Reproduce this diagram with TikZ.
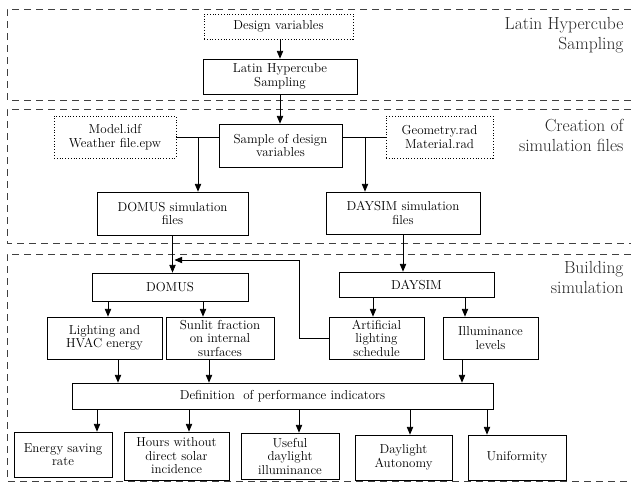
\documentclass[tikz,border=0pt]{standalone}
\usepackage{fontspec}
\usepackage{tikz}
\usetikzlibrary{shapes,arrows}

\begin{document}
\begin{tikzpicture}[x=1pt,y=-1pt,
	box/.style={draw=black,line width=0.8pt,align=center,inner sep=1pt,
		font=\fontsize{13}{13.5}\selectfont},
	filebox/.style={box,dotted},
	section/.style={draw=black!75,line width=0.8pt,dash pattern=on 7pt off 5pt},
	title/.style={anchor=east,align=right,text=black!85,
		font=\fontsize{17.5}{20}\selectfont},
	arr/.style={-triangle 45,line width=0.75pt}]
\useasboundingbox (0,0) rectangle (631,483);

% dashed stages
\draw[section] (631,9) -| (7,100) -- (631,100);%sampling
\draw[section] (631,109) -| (7,243) -- (631,243);%files
\draw[section] (631,254) -| (7,481) -- (631,481);%simulation

\node[title] (tsampling) at (627,35) {Latin Hypercube\\Sampling};
\node[title] (tfiles) at (627,135) {Creation of\\simulation files};
\node[title] (tsim) at (627,277) {Building\\simulation};

% sampling
\node[filebox,minimum width=149,minimum height=25] (desvar) at (278.5,26.5) {Design variables};
\node[box,minimum width=154,minimum height=35] (lhs) at (280,76.5) {Latin Hypercube\\Sampling};

% simulation files
\node[filebox,minimum width=122,minimum height=42] (model) at (115,137) {Model.idf\\Weather file.epw};
\node[box,minimum width=123,minimum height=43] (sample) at (280.5,145.5) {Sample of design\\variables};
\node[filebox,minimum width=107,minimum height=42] (geom) at (439.5,137) {Geometry.rad\\Material.rad};
\node[box,minimum width=151,minimum height=43] (domusfiles) at (172.5,213.5) {DOMUS simulation\\files};
\node[box,minimum width=154,minimum height=42] (daysimfiles) at (403,213) {DAYSIM simulation\\files};

% building simulation
\node[box,minimum width=156,minimum height=28] (domus) at (170,287) {DOMUS};
\node[box,minimum width=155,minimum height=25] (daysim) at (416.5,284.5) {DAYSIM};
\node[box,minimum width=115,minimum height=42] (lighting) at (104.5,338) {Lighting and\\HVAC energy};
\node[box,minimum width=108,minimum height=42] (sunlit) at (220,338) {Sunlit fraction\\on internal\\surfaces};
\node[box,minimum width=95,minimum height=42] (artif) at (376.5,338) {Artificial\\lighting\\schedule};
\node[box,minimum width=95,minimum height=42] (illum) at (490.5,338) {Illuminance\\levels};
\node[box,minimum width=421,minimum height=26] (indic) at (282.5,396) {Definition\ \ of performance indicators};

% indicators
\node[box,minimum width=98,minimum height=45] (energy) at (63,454.5) {Energy saving\\rate};
\node[box,minimum width=105,minimum height=48] (hours) at (176.5,456) {Hours without\\direct solar\\incidence};
\node[box,minimum width=98,minimum height=46] (useful) at (290,456) {Useful\\daylight\\illuminance};
\node[box,minimum width=97,minimum height=45] (autonomy) at (403.5,457.5) {Daylight\\Autonomy};
\node[box,minimum width=98,minimum height=45] (uniform) at (517,457.5) {Uniformity};

\coordinate (domusjoint) at (198,137);
\coordinate (daysimjoint) at (365,137);
\coordinate (feedback) at (299,260);

\draw[arr] (desvar.south -| lhs.north) -- (lhs.north);
\draw[arr] (lhs.south) -- (lhs.south |- sample.north);
\draw[line width=0.75pt] (model.east) -- (model.east -| sample.west);
\draw[line width=0.75pt] (sample.east |- geom.west) -- (geom.west);
\draw[arr] (domusjoint) -- (domusjoint |- domusfiles.north);
\draw[arr] (daysimjoint) -- (daysimjoint |- daysimfiles.north);
\draw[arr] (domusfiles.south) -- (domusfiles.south |- domus.north);
\draw[arr] (daysimfiles.south) -- (daysimfiles.south |- daysim.north);
\draw[arr] (artif.west) -| (feedback) -- ([xshift=2]feedback -| domusfiles.south);

\draw[arr] ([xshift=3.5]lighting.north |- domus.south) -- ([xshift=3.5]lighting.north);
\draw[arr] ([xshift=-17]sunlit.north |- domus.south) -- ([xshift=-17]sunlit.north);
\draw[arr] ([xshift=-3.5]artif.north |- daysim.south) -- ([xshift=-3.5]artif.north);
\draw[arr] ([xshift=-25.5]illum.north |- daysim.south) -- ([xshift=-25.5]illum.north);

\draw[arr] ([xshift=13.5]lighting.south) -- ([xshift=13.5]lighting.south |- indic.north);
\draw[arr] ([xshift=-11]sunlit.south) -- ([xshift=-11]sunlit.south |- indic.north);
\draw[arr] ([xshift=-28.5]illum.south) -- ([xshift=-28.5]illum.south |- indic.north);

\draw[arr] ([xshift=34]energy.north |- indic.south) -- ([xshift=34]energy.north);
\draw[arr] ([xshift=12.5]hours.north |- indic.south) -- ([xshift=12.5]hours.north);
\draw[arr] ([xshift=9]useful.north |- indic.south) -- ([xshift=9]useful.north);
\draw[arr] ([xshift=6.5]autonomy.north |- indic.south) -- ([xshift=6.5]autonomy.north);
\draw[arr] ([xshift=-30]uniform.north |- indic.south) -- ([xshift=-30]uniform.north);
\end{tikzpicture}
\end{document}
